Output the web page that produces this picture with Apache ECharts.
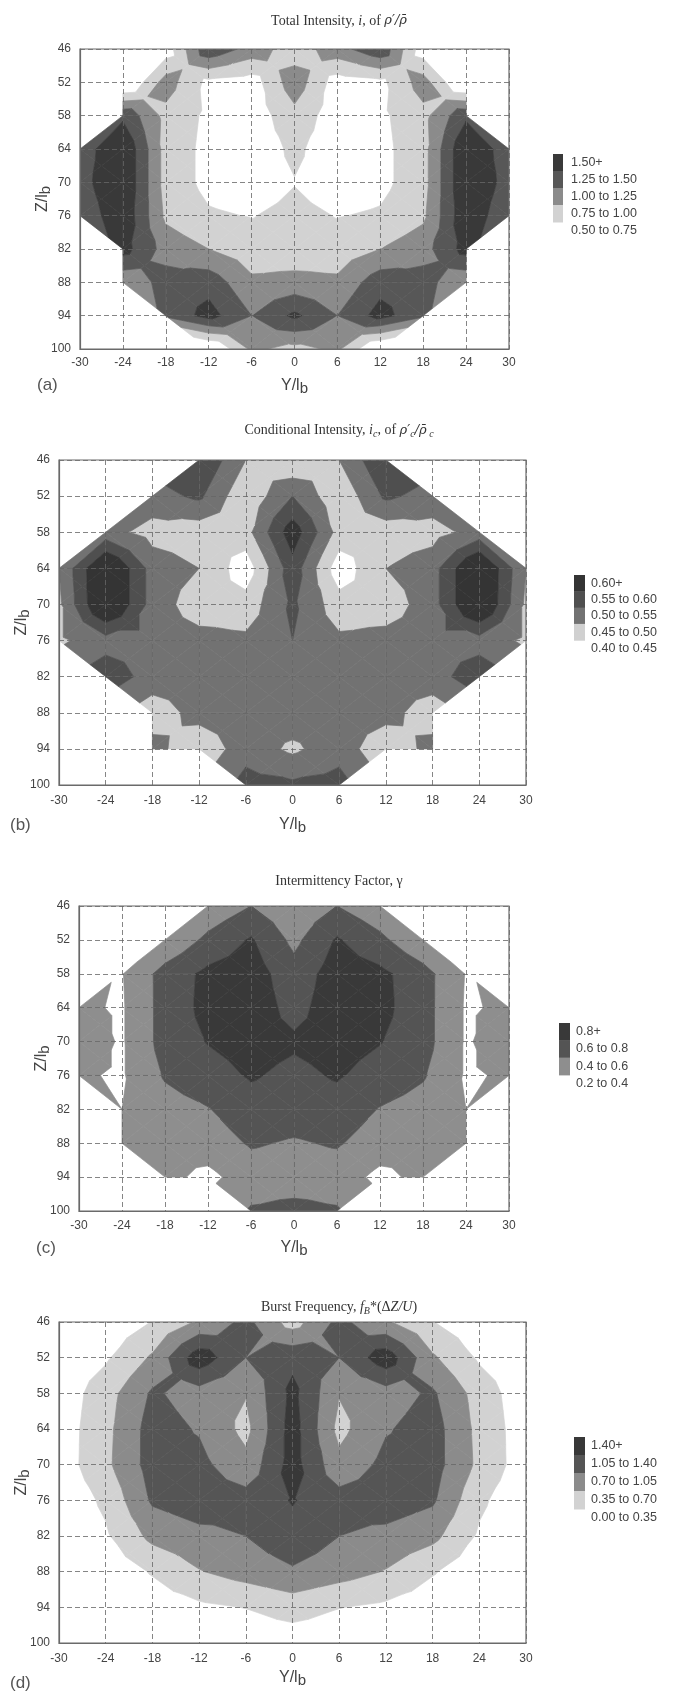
<!DOCTYPE html>
<html>
<head>
<meta charset="utf-8">
<script src="https://cdn.jsdelivr.net/npm/echarts@6/dist/echarts.min.js"></script>
<style>
  html, body { margin: 0; padding: 0; background: #fff; }
  #chart { width: 678px; height: 1694px; }
</style>
</head>
<body>
<div id="chart"></div>
<script>
// Measurement grid: spanwise position Y/lb (columns) and height Z/lb (rows)
const yTicks = [-30, -24, -18, -12, -6, 0, 6, 12, 18, 24, 30];
const zTicks = [46, 52, 58, 64, 70, 76, 82, 88, 94, 100];

// (a) Total intensity i; null = no measurement at that station
const totalIntensity = [
  [null, null, 0.60, 1.45, 1.15, 0.85, 1.15, 1.45, 0.60, null, null],
  [null, 0.42, 1.12, 0.68, 0.62, 1.15, 0.62, 0.68, 1.12, 0.42, null],
  [null, 1.45, 0.92, 0.70, 0.60, 0.92, 0.60, 0.70, 0.92, 1.45, null],
  [1.35, 1.75, 0.90, 0.68, 0.60, 0.80, 0.60, 0.68, 0.90, 1.75, 1.35],
  [1.40, 1.75, 0.90, 0.68, 0.62, 0.74, 0.62, 0.68, 0.90, 1.75, 1.40],
  [1.30, 1.70, 0.95, 0.78, 0.74, 0.82, 0.74, 0.78, 0.95, 1.70, 1.30],
  [null, 1.60, 1.15, 1.00, 0.85, 0.85, 0.85, 1.00, 1.15, 1.60, null],
  [null, 1.05, 1.35, 1.40, 1.05, 1.08, 1.05, 1.40, 1.35, 1.05, null],
  [null, null, 1.30, 1.60, 1.25, 1.55, 1.25, 1.60, 1.30, null, null],
  [null, null, null, 0.45, 1.05, 0.92, 1.05, 0.45, null, null, null]
];
const totalLevels = [0.75, 1.00, 1.25, 1.50];
const totalLegend = ['1.50+', '1.25 to 1.50', '1.00 to 1.25', '0.75 to 1.00', '0.50 to 0.75'];

// (b) Conditional intensity i_c
const conditionalIntensity = [
  [null, null, null, 0.60, 0.50, 0.45, 0.50, 0.60, null, null, null],
  [null, null, 0.53, 0.56, 0.46, 0.55, 0.46, 0.56, 0.53, null, null],
  [null, 0.52, 0.48, 0.47, 0.48, 0.63, 0.48, 0.47, 0.48, 0.52, null],
  [0.50, 0.67, 0.53, 0.50, 0.42, 0.58, 0.42, 0.50, 0.53, 0.67, 0.50],
  [0.49, 0.67, 0.53, 0.47, 0.47, 0.56, 0.47, 0.47, 0.53, 0.67, 0.49],
  [0.49, 0.53, 0.53, 0.52, 0.51, 0.55, 0.51, 0.52, 0.53, 0.53, 0.49],
  [null, 0.58, 0.53, 0.53, 0.53, 0.53, 0.53, 0.53, 0.53, 0.58, null],
  [null, null, 0.47, 0.52, 0.53, 0.53, 0.53, 0.52, 0.47, null, null],
  [null, null, 0.52, 0.46, 0.53, 0.49, 0.53, 0.46, 0.52, null, null],
  [null, null, null, null, 0.57, 0.56, 0.57, null, null, null, null]
];
const conditionalLevels = [0.45, 0.50, 0.55, 0.60];
const conditionalLegend = ['0.60+', '0.55 to 0.60', '0.50 to 0.55', '0.45 to 0.50', '0.40 to 0.45'];

// (c) Intermittency factor gamma
const intermittency = [
  [null, null, null, 0.45, 0.60, 0.45, 0.60, 0.45, null, null, null],
  [null, null, 0.42, 0.65, 0.82, 0.55, 0.82, 0.65, 0.42, null, null],
  [null, 0.39, 0.68, 0.85, 0.90, 0.68, 0.90, 0.85, 0.68, 0.39, null],
  [0.43, 0.38, 0.68, 0.86, 0.90, 0.74, 0.90, 0.86, 0.68, 0.38, 0.43],
  [0.50, 0.38, 0.68, 0.81, 0.88, 0.83, 0.88, 0.81, 0.68, 0.38, 0.50],
  [0.42, 0.38, 0.62, 0.72, 0.82, 0.75, 0.82, 0.72, 0.62, 0.38, 0.42],
  [null, 0.40, 0.52, 0.59, 0.72, 0.70, 0.72, 0.59, 0.52, 0.40, null],
  [null, 0.44, 0.46, 0.50, 0.62, 0.58, 0.62, 0.50, 0.46, 0.44, null],
  [null, null, 0.45, 0.35, 0.50, 0.50, 0.50, 0.35, 0.45, null, null],
  [null, null, null, null, 0.62, 0.66, 0.62, null, null, null, null]
];
const intermittencyLevels = [0.4, 0.6, 0.8];
const intermittencyLegend = ['0.8+', '0.6 to 0.8', '0.4 to 0.6', '0.2 to 0.4'];

// (d) Burst frequency fB*(dZ/U)
const burstFrequency = [
  [0.05, 0.10, 0.36, 0.75, 1.15, 0.55, 1.15, 0.75, 0.36, 0.10, 0.05],
  [0.08, 0.30, 0.75, 1.62, 1.05, 1.30, 1.05, 1.62, 0.75, 0.30, 0.08],
  [0.12, 0.55, 1.10, 0.90, 0.72, 1.50, 0.72, 0.90, 1.10, 0.55, 0.12],
  [0.15, 0.60, 1.20, 1.02, 0.60, 1.55, 0.60, 1.02, 1.20, 0.60, 0.15],
  [0.15, 0.62, 1.20, 1.15, 0.80, 1.55, 0.80, 1.15, 1.20, 0.62, 0.15],
  [0.08, 0.42, 1.10, 1.25, 1.20, 1.42, 1.20, 1.25, 1.10, 0.42, 0.08],
  [0.04, 0.30, 0.80, 0.95, 1.05, 1.30, 1.05, 0.95, 0.80, 0.30, 0.04],
  [0.00, 0.10, 0.38, 0.68, 0.85, 1.00, 0.85, 0.68, 0.38, 0.10, 0.00],
  [0.00, 0.02, 0.15, 0.28, 0.36, 0.50, 0.36, 0.28, 0.15, 0.02, 0.00],
  [0.00, 0.00, 0.02, 0.05, 0.10, 0.15, 0.10, 0.05, 0.02, 0.00, 0.00]
];
const burstLevels = [0.35, 0.70, 1.05, 1.40];
const burstLegend = ['1.40+', '1.05 to 1.40', '0.70 to 1.05', '0.35 to 0.70', '0.00 to 0.35'];

// Panel layout and styling
const SANS = '"Liberation Sans", Arial, Helvetica, sans-serif';
const SERIF = '"Liberation Serif", "Times New Roman", "DejaVu Serif", serif';
const GREEK = '"DejaVu Serif", serif';
const panels = [
  { tag: '(a)', grid: totalIntensity, levels: totalLevels, legend: totalLegend,
    title: 'Total Intensity, {i|i}, of {g|\u03c1\u2032/\u03c1\u0304}',
    colors: [null, '#d2d2d2', '#8b8b8b', '#575757', '#393939'],
    box: { left: 80, top: 49, width: 429, height: 300 }, titleTop: 9,
    labelMargin: 8, nameGapX: 26, tagY: 385, tagX: 37,
    leg: { bx: 553, by: 154, bw: 10, step: 17, tx: 571 } },
  { tag: '(b)', grid: conditionalIntensity, levels: conditionalLevels, legend: conditionalLegend,
    title: 'Conditional Intensity, {i|i}{s|c}, of {g|\u03c1\u2032}{s|c}{g|/\u03c1\u0304}{s| c}',
    colors: [null, '#d0d0d0', '#727272', '#4f4f4f', '#343434'],
    box: { left: 59, top: 460, width: 467, height: 325 }, titleTop: 417,
    labelMargin: 10, nameGapX: 29, tagY: 825, tagX: 10,
    leg: { bx: 574, by: 575, bw: 11, step: 16.3, tx: 591 } },
  { tag: '(c)', grid: intermittency, levels: intermittencyLevels, legend: intermittencyLegend,
    title: 'Intermittency Factor, \u03b3',
    colors: [null, '#8e8e8e', '#545454', '#393939'],
    box: { left: 79, top: 906, width: 430, height: 305 }, titleTop: 869,
    labelMargin: 9, nameGapX: 26, tagY: 1248, tagX: 36,
    leg: { bx: 559, by: 1023, bw: 11, step: 17.3, tx: 576 } },
  { tag: '(d)', grid: burstFrequency, levels: burstLevels, legend: burstLegend,
    title: 'Burst Frequency, {i|f}{s|B}*(\u0394{i|Z/U})',
    colors: [null, '#d2d2d2', '#8b8b8b', '#555555', '#383838'],
    box: { left: 59, top: 1322, width: 467, height: 321 }, titleTop: 1294,
    labelMargin: 10, nameGapX: 24, tagY: 1683, tagX: 10,
    leg: { bx: 574, by: 1437, bw: 11, step: 18, tx: 591 } }
];

// Grid cells that have at least three measured corners
function buildCells(values) {
  const cells = [];
  for (let j = 0; j < zTicks.length - 1; j++) {
    for (let i = 0; i < yTicks.length - 1; i++) {
      const nodes = [[i, j], [i + 1, j], [i + 1, j + 1], [i, j + 1]]
        .map(([a, b]) => ({ y: yTicks[a], z: zTicks[b], v: values[b][a] }))
        .filter(n => n.v !== null);
      if (nodes.length < 3) continue;
      cells.push({ y: (yTicks[i] + yTicks[i + 1]) / 2, z: (zTicks[j] + zTicks[j + 1]) / 2, nodes });
    }
  }
  return cells;
}

// Keep the part of a polygon where f(p) >= 0, interpolating linearly along edges
function clip(poly, f) {
  const out = [];
  for (let k = 0; k < poly.length; k++) {
    const a = poly[k], b = poly[(k + 1) % poly.length];
    const da = f(a), db = f(b);
    if (da >= 0) out.push(a);
    if ((da >= 0) !== (db >= 0)) {
      const t = da / (da - db);
      out.push({ x: a.x + (b.x - a.x) * t, y: a.y + (b.y - a.y) * t, v: a.v + (b.v - a.v) * t });
    }
  }
  return out;
}

// Filled-contour renderer: each cell is split into triangles and each triangle
// is cut into the bands given by the contour levels
function contourRenderer(cells, levels, colors) {
  return function (params, api) {
    const cell = cells[params.dataIndex];
    const pts = cell.nodes.map(n => {
      const p = api.coord([n.y, n.z]);
      return { x: p[0], y: p[1], v: n.v };
    });
    let tris;
    if (pts.length === 4) {
      const c = {
        x: pts.reduce((s, p) => s + p.x, 0) / 4,
        y: pts.reduce((s, p) => s + p.y, 0) / 4,
        v: pts.reduce((s, p) => s + p.v, 0) / 4
      };
      tris = pts.map((p, k) => [p, pts[(k + 1) % 4], c]);
    } else {
      tris = [pts];
    }
    const children = [];
    tris.forEach(t => {
      for (let k = 1; k <= levels.length; k++) {
        const lo = levels[k - 1];
        const hi = k < levels.length ? levels[k] : Infinity;
        let poly = clip(t, p => p.v - lo);
        if (hi !== Infinity) poly = clip(poly, p => hi - p.v);
        if (poly.length >= 3) {
          children.push({
            type: 'polygon',
            shape: { points: poly.map(p => [p.x, p.y]) },
            style: { fill: colors[k], stroke: colors[k], lineWidth: 0.7 }
          });
        }
      }
    });
    return { type: 'group', children };
  };
}

const titleRich = {
  i: { fontStyle: 'italic', fontFamily: SERIF, fontSize: 14, color: '#333' },
  g: { fontStyle: 'italic', fontFamily: GREEK, fontSize: 13, color: '#333' },
  s: { fontStyle: 'italic', fontFamily: SERIF, fontSize: 10, color: '#333', padding: [7, 0, 0, 0] }
};
const nameRich = {
  s: { fontFamily: SANS, fontSize: 15, color: '#444', padding: [6, 0, 0, 0] }
};

const option = {
  backgroundColor: '#fff',
  animation: false,
  title: panels.map(p => ({
    text: p.title,
    left: 'center',
    top: p.titleTop,
    textStyle: { fontFamily: SERIF, fontSize: 14, fontWeight: 'normal', color: '#333', rich: titleRich }
  })),
  grid: panels.map(p => ({
    left: p.box.left, top: p.box.top, width: p.box.width, height: p.box.height,
    show: true, z: 10, backgroundColor: 'transparent', borderColor: '#6a6a6a', borderWidth: 1.2
  })),
  xAxis: panels.map((p, idx) => ({
    type: 'value', gridIndex: idx, min: -30, max: 30, interval: 6, z: 5,
    name: 'Y/l{s|b}', nameLocation: 'middle', nameGap: p.nameGapX, nameMoveOverlap: false,
    nameTextStyle: { fontFamily: SANS, fontSize: 16, color: '#444', rich: nameRich },
    axisLine: { show: true, onZero: false, lineStyle: { color: '#6a6a6a', width: 1.2 } },
    axisTick: { show: false },
    axisLabel: { fontFamily: SANS, fontSize: 12, color: '#444', margin: p.labelMargin },
    splitLine: { show: true, lineStyle: { color: '#666', width: 0.8, type: [5, 3] } }
  })),
  yAxis: panels.map((p, idx) => ({
    type: 'value', gridIndex: idx, min: 46, max: 100, interval: 6, inverse: true, z: 5,
    name: 'Z/l{s|b}', nameLocation: 'middle', nameGap: 27, nameRotate: 90, nameMoveOverlap: false,
    nameTextStyle: { fontFamily: SANS, fontSize: 16, color: '#444', rich: nameRich },
    axisLine: { show: true, onZero: false, lineStyle: { color: '#6a6a6a', width: 1.2 } },
    axisTick: { show: false },
    axisLabel: { fontFamily: SANS, fontSize: 12, color: '#444', margin: 9 },
    splitLine: { show: true, lineStyle: { color: '#666', width: 0.8, type: [5, 3] } }
  })),
  series: panels.map((p, idx) => {
    const cells = buildCells(p.grid);
    return {
      type: 'custom', xAxisIndex: idx, yAxisIndex: idx, silent: true, z: 2, clip: true,
      data: cells.map(c => [c.y, c.z]),
      renderItem: contourRenderer(cells, p.levels, p.colors)
    };
  }),
  graphic: panels.flatMap(p => {
    const els = [];
    const n = p.legend.length;
    p.legend.forEach((label, k) => {
      const color = p.colors[n - 1 - k];
      if (color) {
        els.push({ type: 'rect', silent: true,
          shape: { x: p.leg.bx, y: p.leg.by + k * p.leg.step, width: p.leg.bw, height: p.leg.step + 0.5 },
          style: { fill: color } });
      }
      els.push({ type: 'text', silent: true, x: p.leg.tx, y: p.leg.by + (k + 0.5) * p.leg.step,
        style: { text: label, fill: '#444', fontSize: 12.5, fontFamily: SANS, verticalAlign: 'middle', align: 'left' } });
    });
    els.push({ type: 'text', silent: true, x: p.tagX, y: p.tagY,
      style: { text: p.tag, fill: '#555', fontSize: 17, fontFamily: SANS, verticalAlign: 'middle', align: 'left' } });
    return els;
  })
};

const chart = echarts.init(document.getElementById('chart'), null, { renderer: 'canvas' });
chart.setOption(option);
</script>
</body>
</html>
